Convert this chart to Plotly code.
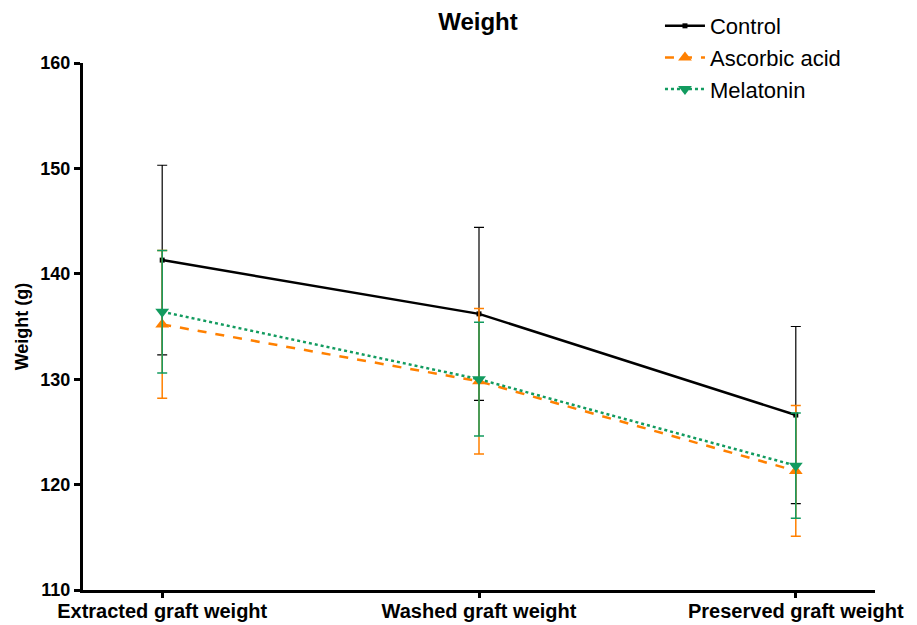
import plotly.graph_objects as go

categories = ["Extracted graft weight", "Washed graft weight", "Preserved graft weight"]
control = [141.3, 136.2, 126.6]
control_err = [9.0, 8.2, 8.4]
ascorbic = [135.2, 129.8, 121.3]
ascorbic_err = [7.0, 6.9, 6.2]
melatonin = [136.4, 130.0, 121.8]
melatonin_err = [5.8, 5.4, 5.0]
y_ticks = [110, 120, 130, 140, 150, 160]

x_idx = list(range(len(categories)))
FONT = "Liberation Sans, Arial, sans-serif"
ORANGE = "#FF8000"
GREEN = "#129B5F"

fig = go.Figure()
fig.add_trace(go.Scatter(
    x=x_idx, y=control, name="Control", mode="lines+markers",
    line=dict(color="black", width=2.5),
    marker=dict(symbol="square", size=5, color="black"),
    error_y=dict(type="data", array=control_err, color="black", thickness=1.2, width=5),
))
fig.add_trace(go.Scatter(
    x=x_idx, y=ascorbic, name="Ascorbic acid", mode="lines+markers",
    line=dict(color=ORANGE, width=2.5, dash="dash"),
    marker=dict(symbol="triangle-up", size=12, color=ORANGE),
    error_y=dict(type="data", array=ascorbic_err, color=ORANGE, thickness=1.5, width=5),
))
fig.add_trace(go.Scatter(
    x=x_idx, y=melatonin, name="Melatonin", mode="lines+markers",
    line=dict(color=GREEN, width=2.5, dash="dot"),
    marker=dict(symbol="triangle-down", size=12, color=GREEN),
    error_y=dict(type="data", array=melatonin_err, color=GREEN, thickness=1.5, width=5),
))

fig.update_layout(
    width=917, height=625,
    margin=dict(l=83, r=42, t=63, b=35, autoexpand=False),
    paper_bgcolor="white", plot_bgcolor="white",
    font=dict(family=FONT, color="black"),
    title=dict(text="<b>Weight</b>", x=(478 / 917), xanchor="center", y=0.965, yanchor="middle",
               font=dict(size=24, family=FONT, color="black")),
    showlegend=True,
    legend=dict(x=0.7285, y=1.11, xanchor="left", yanchor="top",
                font=dict(size=22, family=FONT, color="black"),
                bgcolor="rgba(0,0,0,0)", itemwidth=40),
    xaxis=dict(
        tickmode="array", tickvals=x_idx, ticktext=["<b>%s</b>" % c for c in categories],
        range=[-0.25, 2.25], showgrid=False, zeroline=False,
        showline=True, linecolor="black", linewidth=3,
        ticks="outside", ticklen=5, tickwidth=3, tickcolor="black",
        ticklabelstandoff=-4,
        tickfont=dict(size=20, family=FONT, color="black"),
    ),
    yaxis=dict(
        range=[110, 160], tickvals=y_ticks, ticktext=["<b>%d</b>" % v for v in y_ticks],
        showgrid=False, zeroline=False,
        showline=True, linecolor="black", linewidth=3,
        ticks="outside", ticklen=6, tickwidth=3, tickcolor="black",
        tickfont=dict(size=18, family=FONT, color="black"),
        title=dict(text="<b>Weight (g)</b>", font=dict(size=18, family=FONT, color="black"), standoff=8),
    ),
)

fig.write_html("out.html", config={"displayModeBar": False},
               post_script="document.body.style.margin='0';document.body.style.overflow='hidden';")
